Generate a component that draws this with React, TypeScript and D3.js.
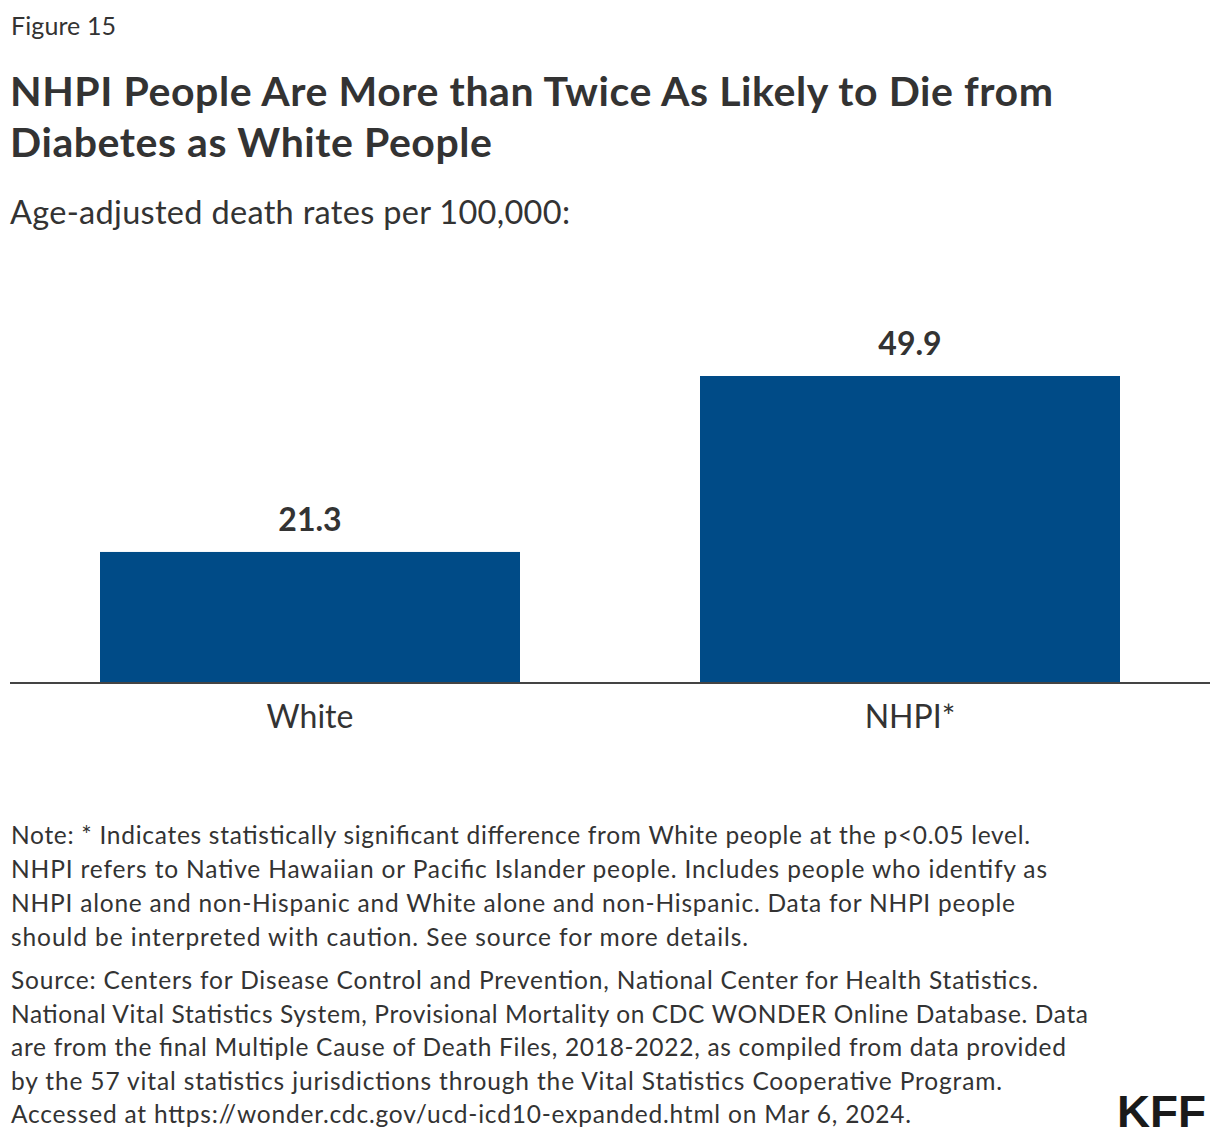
import React from "react";
import * as d3 from "d3";

const categories = ["White", "NHPI*"];
const values = [21.3, 49.9];
const valueLabels = ["21.3", "49.9"];

const titleLines = [
  "NHPI People Are More than Twice As Likely to Die from",
  "Diabetes as White People",
];
const subtitle = "Age-adjusted death rates per 100,000:";
const noteLines = [
  "Note: * Indicates statistically significant difference from White people at the p<0.05 level.",
  "NHPI refers to Native Hawaiian or Pacific Islander people. Includes people who identify as",
  "NHPI alone and non-Hispanic and White alone and non-Hispanic. Data for NHPI people",
  "should be interpreted with caution. See source for more details.",
];
const sourceLines = [
  "Source: Centers for Disease Control and Prevention, National Center for Health Statistics.",
  "National Vital Statistics System, Provisional Mortality on CDC WONDER Online Database. Data",
  "are from the final Multiple Cause of Death Files, 2018-2022, as compiled from data provided",
  "by the 57 vital statistics jurisdictions through the Vital Statistics Cooperative Program.",
  "Accessed at https://wonder.cdc.gov/ucd-icd10-expanded.html on Mar 6, 2024.",
];

// rendered line widths (layout only)
const titleWidths = [1043, 482];
const noteWidths = [1019, 1036, 1004, 737];
const sourceWidths = [1027, 1077, 1055, 991, 900];

const W = 1220;
const H = 1142;
const FONT = "'Source Sans Pro', Lato, 'Open Sans', sans-serif";
const TEXT = "#333333";
const BAR = "#004b87";

export default function App() {
  const baseline = 683;
  const x = d3
    .scaleBand<string>()
    .domain(categories)
    .range([10, 1210])
    .paddingInner(0.3)
    .paddingOuter(0.15);
  const y = d3.scaleLinear().domain([0, 49.9]).range([baseline, 376]);

  return (
    <svg
      width={W}
      height={H}
      style={{ position: "absolute", left: 0, top: 0, background: "#fff" }}
      fontFamily={FONT}
    >
      <rect x={0} y={0} width={W} height={H} fill="#fff" />
      <text x={11} y={35} fontSize={25} fill={TEXT} textLength={105} lengthAdjust="spacing">
        Figure 15
      </text>
      {titleLines.map((t, i) => (
        <text
          key={i}
          x={10}
          y={106 + i * 51}
          fontSize={41}
          fontWeight={700}
          fill={TEXT}
          textLength={titleWidths[i]}
          lengthAdjust="spacing"
        >
          {t}
        </text>
      ))}
      <text x={10} y={224} fontSize={32.5} fill={TEXT} textLength={560} lengthAdjust="spacing">
        {subtitle}
      </text>

      {categories.map((c, i) => (
        <g key={c}>
          <rect
            x={x(c)}
            y={y(values[i])}
            width={x.bandwidth()}
            height={baseline - y(values[i])}
            fill={BAR}
          />
          <text
            x={(x(c) as number) + x.bandwidth() / 2}
            y={y(values[i]) - 21}
            textAnchor="middle"
            fontSize={32}
            fontWeight={700}
            fill={TEXT}
          >
            {valueLabels[i]}
          </text>
          <text
            x={(x(c) as number) + x.bandwidth() / 2}
            y={728}
            textAnchor="middle"
            fontSize={32}
            fill={TEXT}
          >
            {c}
          </text>
        </g>
      ))}
      <line x1={10} x2={1210} y1={baseline} y2={baseline} stroke="#444" strokeWidth={2} />

      {noteLines.map((t, i) => (
        <text
          key={i}
          x={11}
          y={844 + i * 34}
          fontSize={24.5}
          fill={TEXT}
          textLength={noteWidths[i]}
          lengthAdjust="spacing"
        >
          {t}
        </text>
      ))}
      {sourceLines.map((t, i) => (
        <text
          key={i}
          x={11}
          y={989 + i * 33.5}
          fontSize={24.5}
          fill={TEXT}
          textLength={sourceWidths[i]}
          lengthAdjust="spacing"
        >
          {t}
        </text>
      ))}
      <text
        x={1206}
        y={1127}
        textAnchor="end"
        fontSize={44}
        fontWeight={900}
        fill="#1a1a1a"
        fontFamily="'Liberation Sans', Arial, sans-serif"
        textLength={89}
        lengthAdjust="spacingAndGlyphs"
      >
        KFF
      </text>
    </svg>
  );
}
